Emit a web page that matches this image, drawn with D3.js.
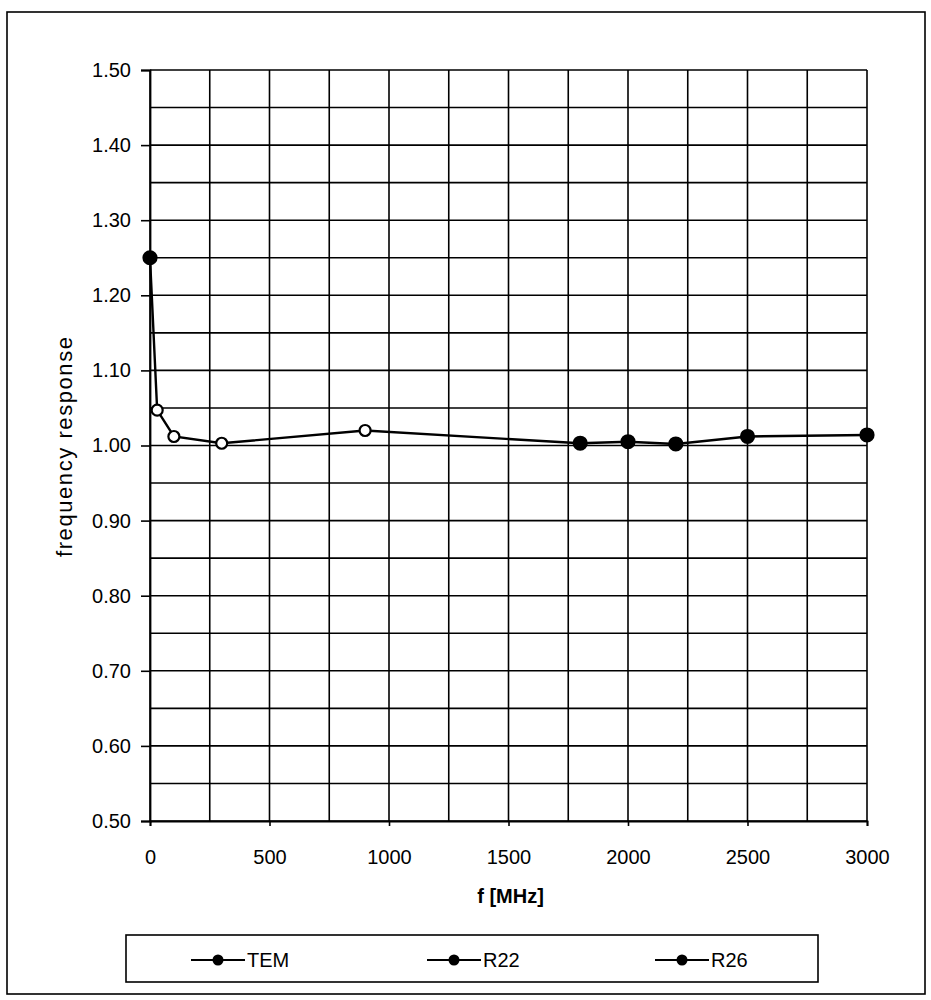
<!DOCTYPE html>
<html>
<head>
<meta charset="utf-8">
<script src="https://cdn.jsdelivr.net/npm/d3@7"></script>
<style>
  html, body { margin: 0; padding: 0; background: #fff; }
  svg { display: block; }
  text { font-family: "Liberation Sans", Arial, sans-serif; fill: #000; }
</style>
</head>
<body>
<svg id="chart" width="931" height="1000"></svg>
<script>
// ---- data ----
const seriesNames = ["TEM", "R22", "R26"];
const temFreq = [0];
const temResp = [1.25];
const r22Freq = [30, 100, 300, 900];
const r22Resp = [1.047, 1.012, 1.003, 1.020];
const r26Freq = [1800, 2000, 2200, 2500, 3000];
const r26Resp = [1.003, 1.005, 1.002, 1.012, 1.014];
const xTickValues = [0, 500, 1000, 1500, 2000, 2500, 3000];
const yTickValues = [0.5, 0.6, 0.7, 0.8, 0.9, 1.0, 1.1, 1.2, 1.3, 1.4, 1.5];
const xGridValues = d3.range(0, 3001, 250);
const yGridValues = d3.range(0.5, 1.5001, 0.05);
const xTitle = "f [MHz]";
const yTitle = "frequency response";

// ---- layout ----
const svg = d3.select("#chart");
const L = 150, R = 867, T = 70, B = 821;
const x = d3.scaleLinear().domain([0, 3000]).range([L, R]);
const y = d3.scaleLinear().domain([0.5, 1.5]).range([B, T]);

// outer frame
svg.append("rect").attr("x", 7).attr("y", 12).attr("width", 918).attr("height", 982)
  .attr("fill", "none").attr("stroke", "#000").attr("stroke-width", 1.6);

// grid
const g = svg.append("g");
g.selectAll("line.hg").data(yGridValues).join("line")
  .attr("x1", L).attr("x2", R)
  .attr("y1", d => y(d)).attr("y2", d => y(d))
  .attr("stroke", "#000").attr("stroke-width", 1.6);
g.selectAll("line.vg").data(xGridValues).join("line")
  .attr("y1", T).attr("y2", B)
  .attr("x1", d => x(d)).attr("x2", d => x(d))
  .attr("stroke", "#000").attr("stroke-width", 1.6);

// axes
const yAxis = d3.axisLeft(y).tickValues(yTickValues).tickFormat(d3.format(".2f")).tickSize(9).tickPadding(10);
const xAxis = d3.axisBottom(x).tickValues(xTickValues).tickFormat(d3.format("d")).tickSize(5).tickPadding(24);
const ya = svg.append("g").attr("transform", `translate(${L},0)`).call(yAxis);
const xa = svg.append("g").attr("transform", `translate(0,${B})`).call(xAxis);
[ya, xa].forEach(a => {
  a.select(".domain").attr("stroke", "#000").attr("stroke-width", 1.8);
  a.selectAll(".tick line").attr("stroke", "#000").attr("stroke-width", 1.6);
  a.selectAll(".tick text").attr("font-size", 20).attr("font-family", "Liberation Sans, Arial, sans-serif").attr("fill", "#000");
});

// titles
svg.append("text").attr("x", (L + R) / 2 + 2).attr("y", 903).attr("text-anchor", "middle")
  .attr("font-size", 20).attr("font-weight", "bold").text(xTitle);
svg.append("text").attr("transform", `translate(72,447) rotate(-90)`).attr("text-anchor", "middle")
  .attr("font-size", 22).attr("textLength", 220).attr("lengthAdjust", "spacing").text(yTitle);

// data
const series = [
  { name: seriesNames[0], f: temFreq, v: temResp, filled: true, r: 6.5 },
  { name: seriesNames[1], f: r22Freq, v: r22Resp, filled: false, r: 5.5 },
  { name: seriesNames[2], f: r26Freq, v: r26Resp, filled: true, r: 6.5 }
];
const allPts = series.flatMap(s => s.f.map((f, i) => ({ f, v: s.v[i], s })))
  .sort((a, b) => a.f - b.f);
const line = d3.line().x(d => x(d.f)).y(d => y(d.v));
svg.append("path").datum(allPts).attr("d", line)
  .attr("fill", "none").attr("stroke", "#000").attr("stroke-width", 2.4);
svg.selectAll("circle.pt").data(allPts).join("circle")
  .attr("cx", d => x(d.f)).attr("cy", d => y(d.v)).attr("r", d => d.s.r)
  .attr("fill", d => d.s.filled ? "#000" : "#fff")
  .attr("stroke", "#000").attr("stroke-width", 2.2);

// legend
const lg = svg.append("g");
lg.append("rect").attr("x", 126).attr("y", 935).attr("width", 692).attr("height", 47)
  .attr("fill", "#fff").attr("stroke", "#000").attr("stroke-width", 1.6);
const legX = [218, 454, 682];
series.forEach((s, i) => {
  const cx = legX[i];
  lg.append("line").attr("x1", cx - 27).attr("x2", cx + 27).attr("y1", 960).attr("y2", 960)
    .attr("stroke", "#000").attr("stroke-width", 2.2);
  lg.append("circle").attr("cx", cx).attr("cy", 960).attr("r", 5.5).attr("fill", "#000");
  lg.append("text").attr("x", cx + 29).attr("y", 967).attr("font-size", 20).text(s.name);
});
</script>
</body>
</html>
